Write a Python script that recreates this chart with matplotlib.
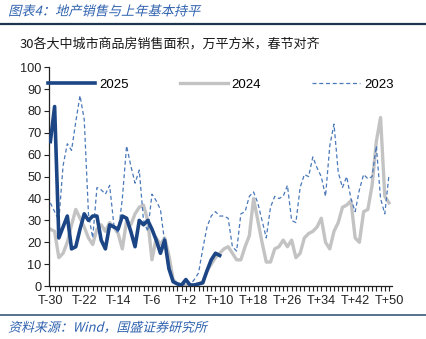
import matplotlib
matplotlib.use("Agg")
import matplotlib.pyplot as plt
from matplotlib.patheffects import AbstractPathEffect
from matplotlib.transforms import Affine2D

# 30 large/mid cities, new home sales area (10k m2), aligned on Spring Festival (T)
days = list(range(-30, 51))
tick_pos = [0, 8, 16, 24, 32, 40, 48, 56, 64, 72, 80]
tick_labels = ["T-30", "T-22", "T-14", "T-6", "T+2", "T+10",
               "T+18", "T+26", "T+34", "T+42", "T+50"]

sales_2025 = [66, 82, 22, 27, 32, 17, 18, 26, 33, 30, 32, 32, 21, 17, 28, 27, 26, 32,
              31, 25, 18, 30, 28, 30, 26, 21, 15, 21, 8, 2, 1, 0.5, 3, 0.5, 0.5, 1,
              1.5, 7, 12, 15, 14]
sales_2024 = [26, 25, 13, 15, 20, 28, 35, 31, 27, 22, 19, 26, 28, 25, 29, 27, 24, 17,
              30, 28, 33, 36, 37, 30, 12, 22, 19, 22, 14, 3, 1, 0.5, 0.5, 0.5, 0.5, 1,
              2, 7, 10, 13, 15, 17, 18, 15, 12, 12, 18, 23, 40, 30, 20, 11, 11, 17,
              18, 21, 18, 21, 13, 15, 22, 24, 25, 27, 31, 20, 17, 25, 29, 36, 37, 39,
              22, 20, 34, 35, 46, 66, 77, 41, 38]
sales_2023 = [38, 34, 30, 55, 65, 62, 75, 87, 76, 33, 22, 45, 44, 42, 46, 28, 24, 40,
              64, 55, 47, 53, 30, 25, 42, 39, 35, 20, 10, 2, 1, 0.5, 1, 0.5, 3, 6,
              17, 27, 32, 34, 32, 32, 31, 18, 16, 33, 34, 41, 43, 38, 30, 22, 36, 41,
              40, 41, 46, 30, 29, 45, 51, 50, 59, 54, 50, 41, 64, 74, 52, 45, 50, 40,
              34, 44, 51, 49, 50, 64, 40, 33, 51]

CJK = ["Noto Sans CJK SC", "DejaVu Sans"]
plt.rcParams["font.family"] = ["Liberation Sans", "DejaVu Sans"]


class Oblique(AbstractPathEffect):
    """Slant glyph outlines, CJK fonts have no italic face."""
    def __init__(self, angle=14):
        super().__init__()
        self._skew = Affine2D().skew_deg(angle, 0)

    def draw_path(self, renderer, gc, tpath, affine, rgbFace=None):
        renderer.draw_path(gc, tpath, self._skew + affine, rgbFace)


fig = plt.figure(figsize=(4.27, 3.39), dpi=100)
ax = fig.add_axes([0.115, 0.156, 0.803, 0.646])

x = list(range(len(days)))
ax.plot(x, sales_2024, color="#C3C3C3", lw=2.4, label="2024", zorder=2,
        solid_joinstyle="round")
ax.plot(x, sales_2023, color="#4A78B8", lw=0.9, ls=(0, (3.2, 2.2)), label="2023", zorder=3)
ax.plot(x[:len(sales_2025)], sales_2025, color="#1B4584", lw=2.6, label="2025", zorder=4,
        solid_joinstyle="round")

ax.set_xlim(-0.3, 80.7)
ax.set_ylim(0, 100)
ax.set_yticks(range(0, 101, 10))
ax.set_xticks(tick_pos)
ax.set_xticklabels(tick_labels)
ax.set_xticks(x, minor=True)
ax.tick_params(axis="both", which="both", direction="out", length=3.5, width=0.8,
               colors="#222222", labelsize=9.2, pad=2)
ax.tick_params(axis="x", which="major", pad=3)
for side in ("top", "right"):
    ax.spines[side].set_visible(False)
for side in ("left", "bottom"):
    ax.spines[side].set_color("#222222")
    ax.spines[side].set_linewidth(0.9)

handles, labels = ax.get_legend_handles_labels()
order = [2, 0, 1]
ax.legend([handles[k] for k in order], [labels[k] for k in order], loc="center",
          bbox_to_anchor=(0.5, 0.92), ncol=3, frameon=False, fontsize=9.5,
          handlelength=3.6, columnspacing=3.9, handletextpad=0.3)

# header and footer
fig.text(0.019, 0.965, "图表4：地产销售与上年基本持平", family=CJK, fontsize=9.5,
         color="#2F62AE", va="center", path_effects=[Oblique()])
fig.add_artist(plt.Line2D([0, 1], [0.929, 0.929], color="#1E3550", lw=1.6))
fig.text(0.047, 0.870, "30各大中城市商品房销售面积，万平方米，春节对齐", family=CJK,
         fontsize=9.4, color="#1A1A1A", va="center")
fig.add_artist(plt.Line2D([0, 1], [0.071, 0.071], color="#2A4A6E", lw=1.1))
fig.text(0.019, 0.032, "资料来源：Wind，国盛证券研究所", family=CJK, fontsize=9.3,
         color="#2F62AE", va="center", path_effects=[Oblique()])

fig.savefig("out.png", dpi=100)
